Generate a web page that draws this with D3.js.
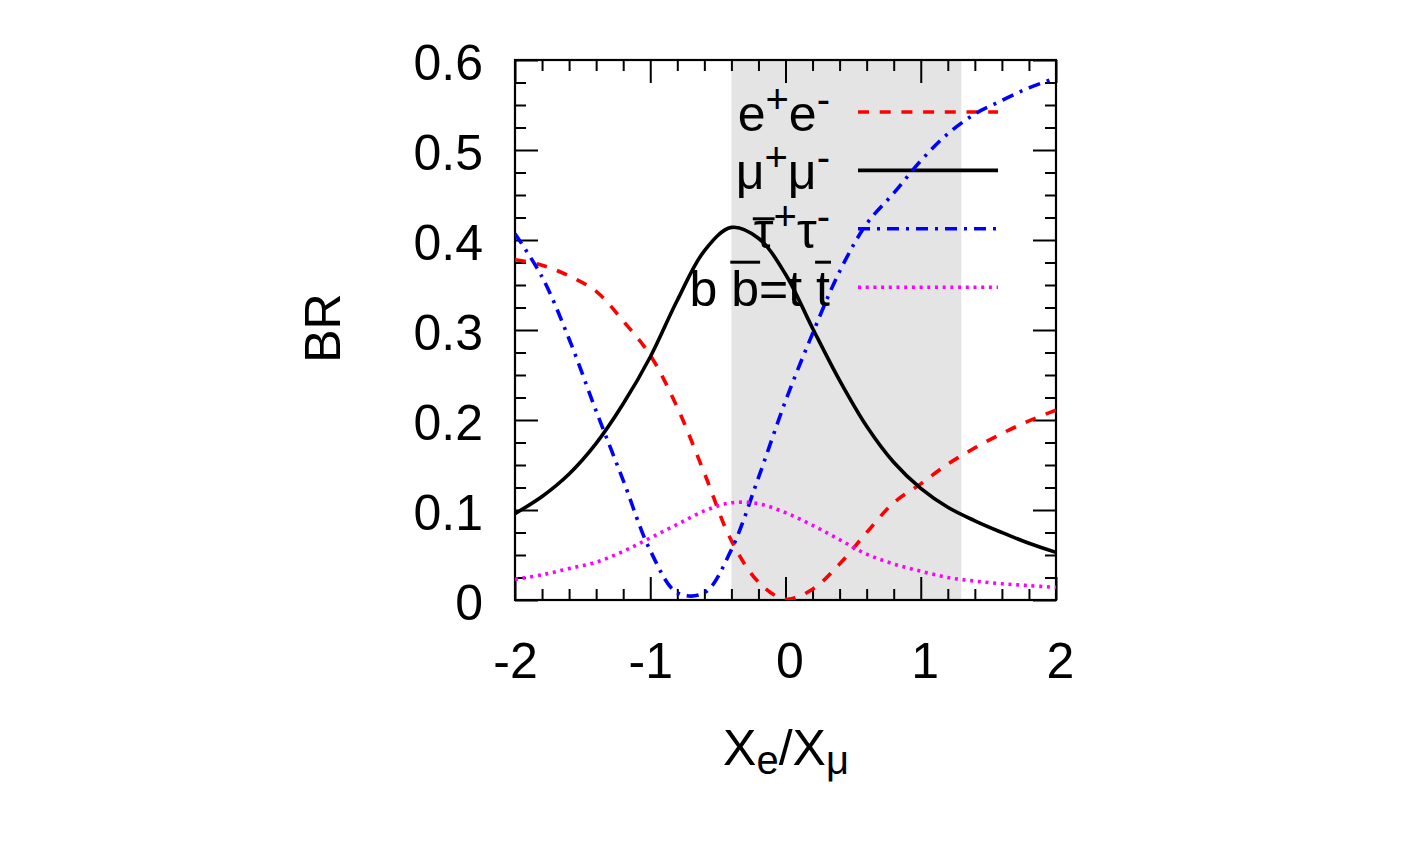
<!DOCTYPE html>
<html>
<head>
<meta charset="utf-8">
<script src="https://cdn.jsdelivr.net/npm/d3@7/dist/d3.min.js"></script>
<style>
  body { margin: 0; background: #fff; }
  text { font-family: "Liberation Sans", Arial, sans-serif; fill: #000; }
</style>
</head>
<body>
<svg id="chart" width="1412" height="847"></svg>
<script>
// x = X_e / X_mu, sampled every 0.2
const xs = [-2.0, -1.8, -1.6, -1.4, -1.2, -1.0, -0.8, -0.6, -0.4, -0.2, 0.0,
            0.2, 0.4, 0.6, 0.8, 1.0, 1.2, 1.4, 1.6, 1.8, 2.0];

const brEE = [0.378, 0.372, 0.360, 0.343, 0.310, 0.272, 0.214, 0.141, 0.066, 0.020, 0.001,
              0.012, 0.040, 0.075, 0.108, 0.129, 0.151, 0.169, 0.185, 0.199, 0.211];
const brMuMu = [0.096, 0.115, 0.140, 0.174, 0.218, 0.270, 0.333, 0.388, 0.414, 0.402, 0.362,
                0.302, 0.244, 0.193, 0.153, 0.124, 0.103, 0.088, 0.075, 0.063, 0.053];
const brTauTau = [0.407, 0.359, 0.290, 0.210, 0.133, 0.055, 0.008, 0.008, 0.056, 0.136, 0.221,
                  0.296, 0.365, 0.418, 0.452, 0.488, 0.518, 0.540, 0.555, 0.569, 0.580];
const brBB = [0.023, 0.028, 0.035, 0.042, 0.054, 0.069, 0.084, 0.099, 0.108, 0.107, 0.097,
              0.083, 0.067, 0.051, 0.040, 0.032, 0.025, 0.021, 0.018, 0.016, 0.014];

// shaded band on x
const band = [-0.4, 1.3];

const xTicks = [-2, -1, 0, 1, 2];
const xTickLabels = ['-2', '-1', '0', '1', '2'];
const yTicks = [0, 0.1, 0.2, 0.3, 0.4, 0.5, 0.6];
const yTickLabels = ['0', '0.1', '0.2', '0.3', '0.4', '0.5', '0.6'];

// legend labels: pieces, 'sup' = superscript, 'bar' = overlined
const legendLabels = [
  [{t: 'e'}, {t: '+', sup: true}, {t: 'e'}, {t: '-', sup: true}],
  [{t: 'μ'}, {t: '+', sup: true}, {t: 'μ'}, {t: '-', sup: true}],
  [{t: 'τ', bar: true}, {t: '+', sup: true}, {t: 'τ'}, {t: '-', sup: true}],
  [{t: 'b '}, {t: 'b', bar: true}, {t: '=t '}, {t: 't', bar: true}]
];

const series = [
  {vals: brEE, color: '#ff0000', dash: '11,10.7'},
  {vals: brMuMu, color: '#000000', dash: null},
  {vals: brTauTau, color: '#0000ff', dash: '12,7,3,7'},
  {vals: brBB, color: '#ff00ff', dash: '3,4.7'}
];

const fs = 50;
const svg = d3.select('#chart');

const x = d3.scaleLinear().domain([-2, 2]).range([515, 1056]);
const y = d3.scaleLinear().domain([0, 0.6]).range([600, 60]);

svg.append('defs').append('clipPath').attr('id', 'plotclip')
  .append('rect')
  .attr('x', x(-2)).attr('y', y(0.6))
  .attr('width', x(2) - x(-2)).attr('height', y(0) - y(0.6));

// grey band
svg.append('rect')
  .attr('x', x(band[0]))
  .attr('y', y(0.6))
  .attr('width', x(band[1]) - x(band[0]))
  .attr('height', y(0) - y(0.6))
  .style('fill', '#e4e4e4');

// ticks, all four sides, pointing in
const xMinor = d3.range(-2, 2.001, 0.2).filter(v => Math.abs(v - Math.round(v)) > 1e-6);
const yMinor = d3.range(0, 0.6001, 0.025).filter(v => Math.abs(v * 10 - Math.round(v * 10)) > 1e-6);

let tickAxis = (gen, values, size, tr) => {
  const g = svg.append('g')
    .attr('transform', tr)
    .call(gen.tickValues(values).tickSizeInner(-size).tickSizeOuter(0).tickFormat(''));
  g.select('.domain').remove();
  g.selectAll('line').attr('stroke', '#000').attr('stroke-width', 2);
};

tickAxis(d3.axisBottom(x), xTicks, 23, 'translate(0,' + y(0) + ')');
tickAxis(d3.axisBottom(x), xMinor, 11, 'translate(0,' + y(0) + ')');
tickAxis(d3.axisTop(x), xTicks, 23, 'translate(0,' + y(0.6) + ')');
tickAxis(d3.axisTop(x), xMinor, 11, 'translate(0,' + y(0.6) + ')');
tickAxis(d3.axisLeft(y), yTicks, 23, 'translate(' + x(-2) + ',0)');
tickAxis(d3.axisLeft(y), yMinor, 11, 'translate(' + x(-2) + ',0)');
tickAxis(d3.axisRight(y), yTicks, 23, 'translate(' + x(2) + ',0)');
tickAxis(d3.axisRight(y), yMinor, 11, 'translate(' + x(2) + ',0)');

// tick labels
const xl = svg.append('g')
  .attr('transform', 'translate(0,' + y(0) + ')')
  .call(d3.axisBottom(x).tickValues(xTicks).tickSize(0).tickPadding(42)
    .tickFormat((d, i) => xTickLabels[i]));
xl.select('.domain').remove();
xl.attr('font-size', fs).attr('font-family', null);
xl.selectAll('text').attr('dx', d => d >= 0 ? 4 : 0);

const yl = svg.append('g')
  .attr('transform', 'translate(' + x(-2) + ',0)')
  .call(d3.axisLeft(y).tickValues(yTicks).tickSize(0).tickPadding(32)
    .tickFormat((d, i) => yTickLabels[i]));
yl.select('.domain').remove();
yl.attr('font-size', fs).attr('font-family', null);
yl.selectAll('text').attr('dy', '0.38em');

// frame
svg.append('rect')
  .attr('x', x(-2)).attr('y', y(0.6))
  .attr('width', x(2) - x(-2)).attr('height', y(0) - y(0.6))
  .style('fill', 'none').style('stroke', '#000').style('stroke-width', 2.2);

// axis titles
svg.append('text')
  .attr('transform', 'translate(340,328) rotate(-90)')
  .attr('text-anchor', 'middle')
  .attr('font-size', fs)
  .text('BR');

const xt = svg.append('text')
  .attr('x', 786).attr('y', 765)
  .attr('text-anchor', 'middle')
  .attr('font-size', fs);
xt.append('tspan').text('X');
xt.append('tspan').attr('dy', 9).attr('font-size', fs * 0.8).text('e');
xt.append('tspan').attr('dy', -9).text('/X');
xt.append('tspan').attr('dy', 9).attr('font-size', fs * 0.8).text('μ');

// legend + curves, drawn in gnuplot order
const line = d3.line()
  .x((d, i) => x(xs[i]))
  .y(d => y(d))
  .curve(d3.curveCatmullRom.alpha(0.5));

const keyX0 = 858, keyX1 = 998, keyText = 830, keyTop = 112, keyStep = 58.4;
const barRise = {'τ': 29, 'b': 44, 't': 44};

series.forEach((s, k) => {
  const ky = keyTop + k * keyStep;
  const base = ky + 19;

  const txt = svg.append('text')
    .attr('x', keyText).attr('y', base)
    .attr('text-anchor', 'end')
    .attr('font-size', fs);
  let shifted = false;
  const bars = [];
  let idx = 0;
  legendLabels[k].forEach(p => {
    const ts = txt.append('tspan').text(p.t);
    if (p.sup) {
      ts.attr('font-size', fs * 0.8).attr('dy', shifted ? 0 : -18);
      shifted = true;
    } else if (shifted) {
      ts.attr('dy', 18);
      shifted = false;
    }
    if (p.bar) bars.push({i: idx, ch: p.t});
    idx += p.t.length;
  });
  const node = txt.node();
  bars.forEach(b => {
    const x0 = node.getStartPositionOfChar(b.i).x;
    const x1 = node.getEndPositionOfChar(b.i).x;
    svg.append('line')
      .attr('x1', x0 - 1).attr('x2', x1 + 1)
      .attr('y1', base - barRise[b.ch]).attr('y2', base - barRise[b.ch])
      .attr('stroke', '#000').attr('stroke-width', 3);
  });

  svg.append('line')
    .attr('x1', keyX0).attr('x2', keyX1)
    .attr('y1', ky).attr('y2', ky)
    .attr('stroke', s.color)
    .attr('stroke-width', 3.6)
    .attr('stroke-dasharray', s.dash);

  svg.append('path')
    .datum(s.vals)
    .attr('clip-path', 'url(#plotclip)')
    .attr('d', line)
    .attr('fill', 'none')
    .attr('stroke', s.color)
    .attr('stroke-width', 3.6)
    .attr('stroke-dasharray', s.dash);
});
</script>
</body>
</html>
